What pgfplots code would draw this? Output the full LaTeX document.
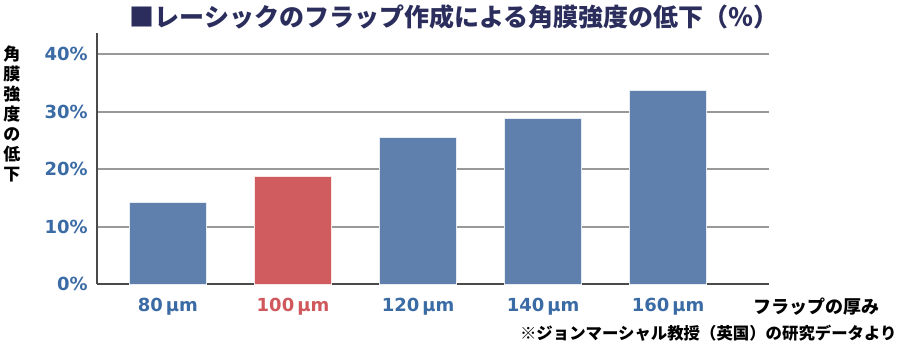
\documentclass[border=0pt]{standalone}
\usepackage{pgfplots}
\pgfplotsset{compat=1.18}
\usepackage{fontspec}
\setmainfont{DejaVu Sans}
\newfontfamily\jp{Noto Sans CJK JP}
\newfontfamily\dv{DejaVu Sans}
\definecolor{barblue}{HTML}{5F7FAD}
\definecolor{barred}{HTML}{D05C5F}
\definecolor{tickblue}{HTML}{3B6BA5}
\definecolor{tickred}{HTML}{D0585C}
\definecolor{titlenavy}{HTML}{2B2E5C}
\definecolor{gridgray}{HTML}{999999}
\definecolor{axisgray}{HTML}{4A4A4A}
\begin{document}
\begin{tikzpicture}
\path[use as bounding box] (0,0) rectangle (450pt,178pt);
\begin{axis}[
  at={(48.5pt,36pt)}, anchor=south west,
  scale only axis,
  width=336pt, height=125.3pt,
  xmin=-0.567, xmax=4.806,
  ymin=0, ymax=43.6,
  axis x line=bottom, axis y line=left,
  axis line style={-, axisgray, line width=1pt},
  xtick={0,1,2,3,4},
  xticklabels={\textcolor{tickblue}{80\,µm},\textcolor{tickred}{100\,µm},\textcolor{tickblue}{120\,µm},\textcolor{tickblue}{140\,µm},\textcolor{tickblue}{160\,µm}},
  ytick={0,10,20,30,40},
  yticklabels={0\%,10\%,20\%,30\%,40\%},
  major tick length=0pt,
  ymajorgrids,
  grid style={gridgray, line width=1pt},
  yticklabel style={font=\dv\bfseries\fontsize{9}{10}\selectfont, text=tickblue, anchor=east, inner sep=0pt, xshift=-4.5pt},
  xticklabel style={font=\dv\bfseries\fontsize{9}{10}\selectfont, anchor=base, inner sep=0pt, yshift=-14pt},
  ybar, bar width=38.5pt,
  clip=false,
]
\addplot[ybar, bar shift=0pt, fill=barblue, draw=white!85!barblue, line width=0.4pt]
  coordinates {(0,14.2) (2,25.5) (3,28.8) (4,33.6)};
\addplot[ybar, bar shift=0pt, fill=barred, draw=white!85!barred, line width=0.4pt]
  coordinates {(1,18.8)};
\end{axis}
\node[font=\jp\bfseries\fontsize{12.5}{14}\selectfont, text=titlenavy, inner sep=0pt] at (227pt,169.5pt) {■レーシックのフラップ作成による角膜強度の低下（％）};
\node[font=\jp\bfseries\fontsize{8.5}{10}\selectfont, align=center, inner sep=0pt] at (6pt,121pt) {角\\膜\\強\\度\\の\\低\\下};
\node[font=\jp\bfseries\fontsize{9}{10}\selectfont, inner sep=0pt] at (408pt,24.5pt) {フラップの厚み};
\node[font=\jp\bfseries\fontsize{8.2}{10}\selectfont, anchor=east, inner sep=0pt] at (448.5pt,11.5pt) {※ジョンマーシャル教授（英国）の研究データより};
\end{tikzpicture}
\end{document}
